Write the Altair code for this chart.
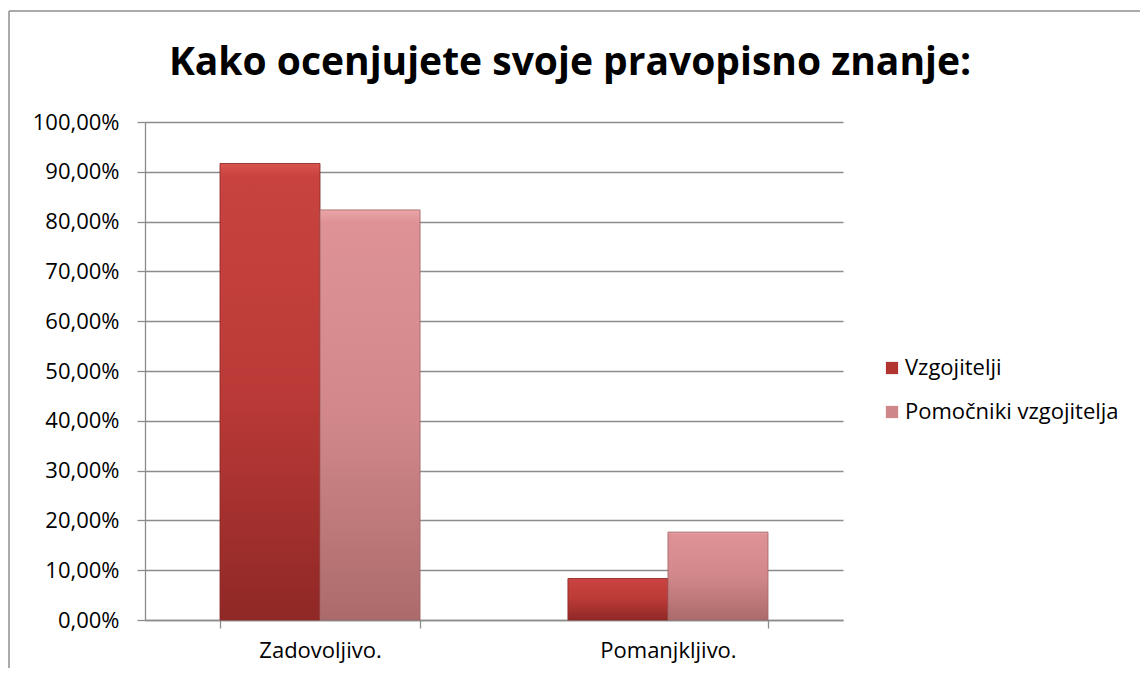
import altair as alt
import pandas as pd

categories = ["Zadovoljivo.", "Pomanjkljivo."]
series_names = ["Vzgojitelji", "Pomočniki vzgojitelja"]
vzgojitelji = [0.9167, 0.0833]
pomocniki = [0.8235, 0.1765]
y_ticks = [0, 0.1, 0.2, 0.3, 0.4, 0.5, 0.6, 0.7, 0.8, 0.9, 1.0]
title_text = "Kako ocenjujete svoje pravopisno znanje:"

rows = []
for c, v in zip(categories, vzgojitelji):
    rows.append({"kategorija": c, "skupina": series_names[0], "delez": v})
for c, v in zip(categories, pomocniki):
    rows.append({"kategorija": c, "skupina": series_names[1], "delez": v})
df = pd.DataFrame(rows)

FONT = "Open Sans"
GRID = "#8c8c8c"

x_enc = alt.X(
    "kategorija:N",
    sort=categories,
    scale=alt.Scale(paddingInner=0.425, paddingOuter=0.2155),
    axis=alt.Axis(
        title=None, labelAngle=0, tickBand="extent", tickSize=8,
        tickColor=GRID, domainColor=GRID, domainWidth=1.3, tickWidth=1.3,
        labelPadding=12, labelFontSize=22,
    ),
)
xo_enc = alt.XOffset("skupina:N", sort=series_names,
                     scale=alt.Scale(domain=series_names, paddingInner=0, paddingOuter=0))
y_enc = alt.Y(
    "delez:Q",
    scale=alt.Scale(domain=[0, 1], nice=False),
    axis=alt.Axis(
        title=None, values=y_ticks, tickSize=8, tickColor=GRID, domainColor=GRID,
        gridColor=GRID, gridWidth=1.3, domainWidth=1.3, tickWidth=1.3,
        labelPadding=18, labelFontSize=22,
        labelExpr="replace(format(datum.value, '.2%'), '.', ',')",
    ),
)

base = alt.Chart(df)

legend_bars = base.mark_bar().encode(
    x=x_enc, xOffset=xo_enc, y=y_enc,
    color=alt.Color(
        "skupina:N", sort=series_names,
        scale=alt.Scale(domain=series_names, range=["#b13431", "#cf8689"]),
        legend=alt.Legend(
            title=None, orient="none", legendX=736, legendY=235,
            symbolType="square", symbolSize=150, symbolStrokeWidth=0,
            labelFontSize=22, labelFont=FONT, labelColor="#000000",
            rowPadding=22, labelOffset=2, labelLimit=0,
        ),
    ),
)

grad_v = alt.Gradient(
    gradient="linear", x1=0, y1=0, x2=0, y2=1,
    stops=[alt.GradientStop(offset=0, color="#d9534f"),
           alt.GradientStop(offset=0.03, color="#c8433f"),
           alt.GradientStop(offset=0.5, color="#bb3a37"),
           alt.GradientStop(offset=1, color="#8f2826")],
)
grad_p = alt.Gradient(
    gradient="linear", x1=0, y1=0, x2=0, y2=1,
    stops=[alt.GradientStop(offset=0, color="#eaa6a8"),
           alt.GradientStop(offset=0.03, color="#de9295"),
           alt.GradientStop(offset=0.5, color="#d2888b"),
           alt.GradientStop(offset=1, color="#ac6b6b")],
)

bars_v = base.transform_filter(alt.datum.skupina == series_names[0]).mark_bar(
    color=grad_v, stroke="#8a2a28", strokeWidth=0.8
).encode(x=x_enc, xOffset=xo_enc, y=y_enc)

bars_p = base.transform_filter(alt.datum.skupina == series_names[1]).mark_bar(
    color=grad_p, stroke="#a06465", strokeWidth=0.8
).encode(x=x_enc, xOffset=xo_enc, y=y_enc)

one = pd.DataFrame({"a": [0]})
border_left = alt.Chart(one).mark_rule(
    color="#8e8e8e", strokeWidth=1.5
).encode(x=alt.value(-136), y=alt.value(-111), y2=alt.value(560))
border_top = alt.Chart(one).mark_rule(
    color="#8e8e8e", strokeWidth=1.5
).encode(x=alt.value(-136), x2=alt.value(1010), y=alt.value(-111))

title_mark = alt.Chart(one).mark_text(
    font=FONT, fontSize=39, fontWeight="bold", color="#000000",
    align="center", baseline="alphabetic",
).encode(x=alt.value(425), y=alt.value(-47), text=alt.value(title_text))

chart = alt.layer(legend_bars, bars_v, bars_p, border_left, border_top, title_mark).properties(
    width=698, height=498,
    autosize=alt.AutoSizeParams(type="none"),
    padding={"left": 137, "top": 114, "right": 297, "bottom": 48},
).configure_view(stroke=None).configure_axis(
    labelFont=FONT, labelColor="#000000", grid=True,
).configure_axisX(grid=False)

chart.save("out.html", embed_options={"renderer": "svg", "actions": False})
